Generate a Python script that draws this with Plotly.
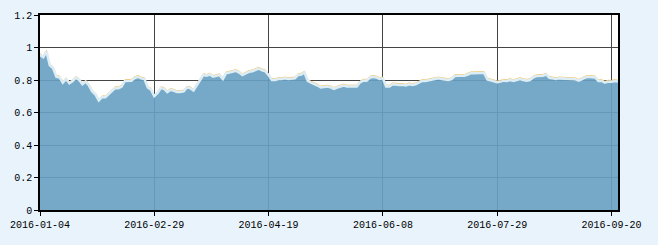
import pandas as pd
import plotly.graph_objects as go

# Trading-day categories (China A-share calendar 2016)
start_date = "2016-01-04"
end_date = "2016-09-22"
holidays = ["2016-02-08", "2016-02-09", "2016-02-10", "2016-02-11", "2016-02-12",
            "2016-04-04", "2016-05-02", "2016-06-09", "2016-06-10",
            "2016-09-15", "2016-09-16"]
dates = [d.strftime("%Y-%m-%d") for d in pd.bdate_range(start_date, end_date)
         if d.strftime("%Y-%m-%d") not in holidays]

tick_labels = ["2016-01-04", "2016-02-29", "2016-04-19", "2016-06-08", "2016-07-29", "2016-09-20"]
y_ticks = [0, 0.2, 0.4, 0.6, 0.8, 1, 1.2]
y_tick_text = ["0", "0.2", "0.4", "0.6", "0.8", "1", "1.2"]

area_values = [
    0.954, 0.940, 0.974, 0.890, 0.874, 0.820, 0.816, 0.784, 0.806, 0.780,
    0.794, 0.814, 0.800, 0.774, 0.790, 0.766, 0.730, 0.710, 0.674, 0.694,
    0.694, 0.714, 0.730, 0.750, 0.750, 0.760, 0.794, 0.796, 0.796, 0.812,
    0.820, 0.810, 0.806, 0.754, 0.740, 0.700, 0.720, 0.750, 0.746, 0.726,
    0.740, 0.734, 0.726, 0.726, 0.730, 0.754, 0.750, 0.736, 0.770, 0.800,
    0.830, 0.826, 0.834, 0.820, 0.826, 0.830, 0.806, 0.842, 0.846, 0.852,
    0.856, 0.846, 0.830, 0.840, 0.850, 0.854, 0.860, 0.870, 0.860, 0.854,
    0.830, 0.800, 0.800, 0.806, 0.806, 0.810, 0.806, 0.806, 0.810, 0.830,
    0.834, 0.846, 0.794, 0.784, 0.776, 0.766, 0.754, 0.758, 0.760, 0.755,
    0.746, 0.754, 0.760, 0.766, 0.760, 0.760, 0.760, 0.760, 0.786, 0.796,
    0.796, 0.814, 0.820, 0.816, 0.806, 0.810, 0.760, 0.760, 0.774, 0.770,
    0.770, 0.770, 0.766, 0.774, 0.770, 0.774, 0.786, 0.794, 0.794, 0.797,
    0.800, 0.806, 0.810, 0.806, 0.804, 0.800, 0.806, 0.824, 0.826, 0.826,
    0.826, 0.834, 0.842, 0.842, 0.842, 0.842, 0.844, 0.804, 0.798, 0.796,
    0.786, 0.790, 0.796, 0.794, 0.800, 0.794, 0.800, 0.806, 0.800, 0.796,
    0.800, 0.816, 0.824, 0.824, 0.826, 0.834, 0.814, 0.810, 0.806, 0.810,
    0.810, 0.810, 0.810, 0.806, 0.804, 0.796, 0.806, 0.816, 0.820, 0.816,
    0.816, 0.794, 0.794, 0.784, 0.790, 0.790, 0.794, 0.790,
]

line_values = [
    0.962, 0.948, 0.982, 0.898, 0.882, 0.828, 0.824, 0.792, 0.814, 0.788,
    0.802, 0.822, 0.808, 0.782, 0.798, 0.774, 0.738, 0.718, 0.682, 0.702,
    0.702, 0.722, 0.738, 0.758, 0.758, 0.768, 0.802, 0.804, 0.804, 0.820,
    0.828, 0.818, 0.814, 0.762, 0.748, 0.708, 0.728, 0.758, 0.754, 0.734,
    0.748, 0.742, 0.734, 0.734, 0.738, 0.762, 0.758, 0.744, 0.778, 0.808,
    0.838, 0.834, 0.842, 0.828, 0.834, 0.838, 0.814, 0.850, 0.854, 0.860,
    0.864, 0.854, 0.838, 0.848, 0.858, 0.862, 0.868, 0.878, 0.868, 0.862,
    0.838, 0.808, 0.808, 0.814, 0.814, 0.818, 0.814, 0.814, 0.818, 0.838,
    0.842, 0.854, 0.802, 0.792, 0.784, 0.774, 0.762, 0.766, 0.768, 0.763,
    0.754, 0.762, 0.768, 0.774, 0.768, 0.768, 0.768, 0.768, 0.794, 0.804,
    0.804, 0.822, 0.828, 0.824, 0.814, 0.818, 0.768, 0.768, 0.782, 0.778,
    0.778, 0.778, 0.774, 0.782, 0.778, 0.782, 0.794, 0.802, 0.802, 0.805,
    0.808, 0.814, 0.818, 0.814, 0.812, 0.808, 0.814, 0.832, 0.834, 0.834,
    0.834, 0.842, 0.850, 0.850, 0.850, 0.850, 0.852, 0.812, 0.806, 0.804,
    0.794, 0.798, 0.804, 0.802, 0.808, 0.802, 0.808, 0.814, 0.808, 0.804,
    0.808, 0.824, 0.832, 0.832, 0.834, 0.842, 0.822, 0.818, 0.814, 0.818,
    0.818, 0.818, 0.818, 0.814, 0.812, 0.804, 0.814, 0.824, 0.828, 0.824,
    0.824, 0.802, 0.802, 0.792, 0.798, 0.798, 0.802, 0.798,
]

FONT = "Liberation Mono"

fig = go.Figure()
fig.add_trace(go.Scatter(
    x=dates, y=line_values, mode="lines",
    line=dict(color="#f4c262", width=1), hoverinfo="skip", showlegend=False,
))
fig.add_trace(go.Scatter(
    x=dates, y=area_values, mode="lines", fill="tozeroy",
    fillcolor="rgba(104,161,193,0.91)",
    line=dict(color="#dcedf6", width=2.5), showlegend=False,
))

fig.update_layout(
    width=658, height=245,
    margin=dict(l=39, r=40, t=10, b=35),
    paper_bgcolor="#e8f3fb",
    plot_bgcolor="#ffffff",
    font=dict(family=FONT, size=10, color="#000000"),
)
fig.update_xaxes(
    type="category", range=[0, len(dates) - 1],
    tickmode="array", tickvals=tick_labels, ticktext=tick_labels,
    ticks="outside", ticklen=4, tickcolor="#000000", tickangle=0,
    showline=True, linecolor="#000000", linewidth=1.5, mirror=True,
    showgrid=True, gridcolor="#444444", gridwidth=1,
    tickfont=dict(family=FONT, size=10, color="#000000"),
)
fig.update_yaxes(
    range=[0, 1.2], tickmode="array", tickvals=y_ticks, ticktext=y_tick_text,
    ticks="outside", ticklen=4, tickcolor="#000000",
    showline=True, linecolor="#000000", linewidth=1.5, mirror=True,
    showgrid=True, gridcolor="#444444", gridwidth=1, zeroline=False,
    tickfont=dict(family=FONT, size=10, color="#000000"),
)

fig.write_html("out.html")
